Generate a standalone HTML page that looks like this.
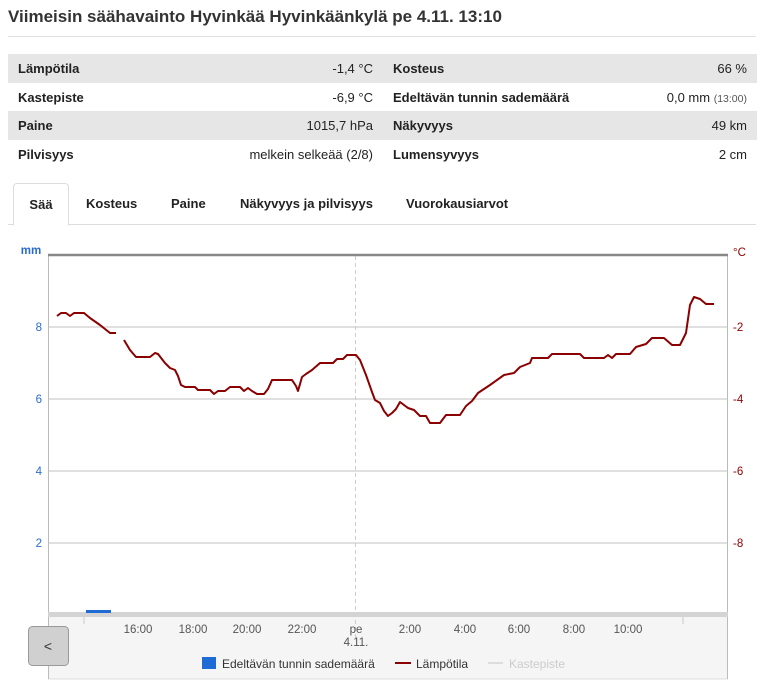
<!DOCTYPE html>
<html><head><meta charset="utf-8"><style>
body{margin:0;background:#fff;font-family:"Liberation Sans",Arial,sans-serif;color:#222;width:764px;height:683px;overflow:hidden;position:relative}
.t{position:absolute;left:8px;top:7px;font-size:17px;font-weight:bold;color:#333}
.hr{position:absolute;left:8px;width:748px;top:36px;height:1px;background:#e2e2e2}
.row{position:absolute;height:29px;font-size:13px;line-height:29px}
.g{background:#e6e6e6}
.l{position:absolute;left:10px;font-weight:bold}
.r{position:absolute;right:10px}
.tab{position:absolute;top:183px;height:41px;line-height:41px;font-size:13px;font-weight:bold}
</style></head><body>
<div class="t">Viimeisin säähavainto Hyvinkää Hyvinkäänkylä pe 4.11. 13:10</div>
<div class="hr"></div>
<div class="row g" style="left:8px;width:375px;top:54px"><span class="l">Lämpötila</span><span class="r">-1,4 °C</span></div>
<div class="row g" style="left:383px;width:374px;top:54px"><span class="l">Kosteus</span><span class="r">66 %</span></div>
<div class="row" style="left:8px;width:375px;top:83px"><span class="l">Kastepiste</span><span class="r">-6,9 °C</span></div>
<div class="row" style="left:383px;width:374px;top:83px"><span class="l">Edeltävän tunnin sademäärä</span><span class="r">0,0 mm <span style="font-size:10.5px;color:#555">(13:00)</span></span></div>
<div class="row g" style="left:8px;width:375px;top:111px"><span class="l">Paine</span><span class="r">1015,7 hPa</span></div>
<div class="row g" style="left:383px;width:374px;top:111px"><span class="l">Näkyvyys</span><span class="r">49 km</span></div>
<div class="row" style="left:8px;width:375px;top:140px"><span class="l">Pilvisyys</span><span class="r">melkein selkeää (2/8)</span></div>
<div class="row" style="left:383px;width:374px;top:140px"><span class="l">Lumensyvyys</span><span class="r">2 cm</span></div>
<div style="position:absolute;left:8px;width:748px;top:224px;height:1px;background:#ddd"></div>
<div class="tab" style="left:13px;width:54px;border:1px solid #ddd;border-bottom:1px solid #fff;border-radius:4px 4px 0 0;text-align:center;background:#fff;height:41px">Sää</div>
<div class="tab" style="left:86px">Kosteus</div>
<div class="tab" style="left:171px">Paine</div>
<div class="tab" style="left:240px">Näkyvyys ja pilvisyys</div>
<div class="tab" style="left:406px">Vuorokausiarvot</div>
<svg style="position:absolute;left:0;top:0" width="764" height="683" font-family="Liberation Sans, Arial, sans-serif">
<rect x="48" y="617" width="680" height="62" fill="#f5f5f5"/>
<line x1="48" y1="679" x2="728" y2="679" stroke="#ddd"/>
<g stroke="#e0e0e0" stroke-width="2"><line x1="48" y1="327" x2="728" y2="327"/><line x1="48" y1="399" x2="728" y2="399"/><line x1="48" y1="471" x2="728" y2="471"/><line x1="48" y1="543" x2="728" y2="543"/></g>
<line x1="355.5" y1="256" x2="355.5" y2="640" stroke="#ccc" stroke-dasharray="4,3"/>
<line x1="48.5" y1="255" x2="48.5" y2="679" stroke="#bbb"/>
<line x1="727.5" y1="255" x2="727.5" y2="679" stroke="#bbb"/>
<line x1="48" y1="255" x2="728" y2="255" stroke="#888" stroke-width="2.5"/>
<rect x="48" y="612" width="680" height="5" fill="#d4d4d4"/>
<g stroke="#ccc"><line x1="84" y1="617" x2="84" y2="624"/><line x1="683" y1="617" x2="683" y2="624"/></g>
<rect x="86" y="610" width="25" height="3" fill="#1f6bd6"/>
<text x="31" y="254" font-size="11.5" font-weight="bold" fill="#2a6bd1" text-anchor="middle">mm</text>
<g font-size="11.5" fill="#2a6bd1" text-anchor="end"><text x="42" y="331">8</text><text x="42" y="403">6</text><text x="42" y="475">4</text><text x="42" y="547">2</text></g>
<text x="733" y="256" font-size="11.5" fill="#8b0000">°C</text>
<g font-size="11.5" fill="#8b0000"><text x="733" y="331">-2</text><text x="733" y="403">-4</text><text x="733" y="475">-6</text><text x="733" y="547">-8</text></g>
<g font-size="11.5" fill="#555" text-anchor="middle"><text x="138" y="633">16:00</text><text x="193" y="633">18:00</text><text x="247" y="633">20:00</text><text x="302" y="633">22:00</text><text x="356" y="633">pe</text><text x="356" y="646">4.11.</text><text x="410" y="633">2:00</text><text x="465" y="633">4:00</text><text x="519" y="633">6:00</text><text x="574" y="633">8:00</text><text x="628" y="633">10:00</text></g>
<rect x="28.5" y="626.5" width="40" height="39" rx="4" fill="#d0d0d0" stroke="#999"/>
<text x="48" y="651" font-size="14" fill="#333" text-anchor="middle">&lt;</text>
<rect x="202" y="657" width="14" height="12" fill="#1f6bd6"/>
<text x="222" y="668" font-size="12" fill="#333">Edeltävän tunnin sademäärä</text>
<line x1="395" y1="663" x2="411" y2="663" stroke="#8b0000" stroke-width="2"/>
<text x="416" y="668" font-size="12" fill="#333">Lämpötila</text>
<line x1="488" y1="663" x2="503" y2="663" stroke="#ddd" stroke-width="2"/>
<text x="509" y="668" font-size="12" fill="#ccc">Kastepiste</text>
<g fill="none" stroke="#8b0000" stroke-width="2" stroke-linejoin="round">
<polyline points="57,316 61,313 66,313 70,316 74,313 84,313 90,318 100,325 110,333 116,333"/>
<polyline points="124,340 130,350 136,357 150,357 155,353 158,354 165,363 170,368 175,370 178,376 181,385 185,387 195,387 198,390 210,390 214,394 218,391 225,391 230,387 240,387 244,391 248,388 252,391 257,394 264,394 268,389 272,380 292,380 296,386 298,391 302,377 306,374 312,370 320,363 333,363 337,359 343,359 347,355 356,355 360,360 366,375 372,392 375,400 380,403 384,411 388,416 392,413 396,409 400,402 404,405 408,408 414,410 420,416 426,416 430,423 440,423 446,415 460,415 466,406 472,401 478,393 490,385 504,375 514,373 520,367 530,363 532,358 548,358 552,354 580,354 584,358 604,358 608,355 612,358 616,354 630,354 636,347 646,344 652,338 664,338 672,345 680,345 686,333 690,305 694,297 700,299 706,304 714,304"/>
</g>
</svg>
</body></html>
